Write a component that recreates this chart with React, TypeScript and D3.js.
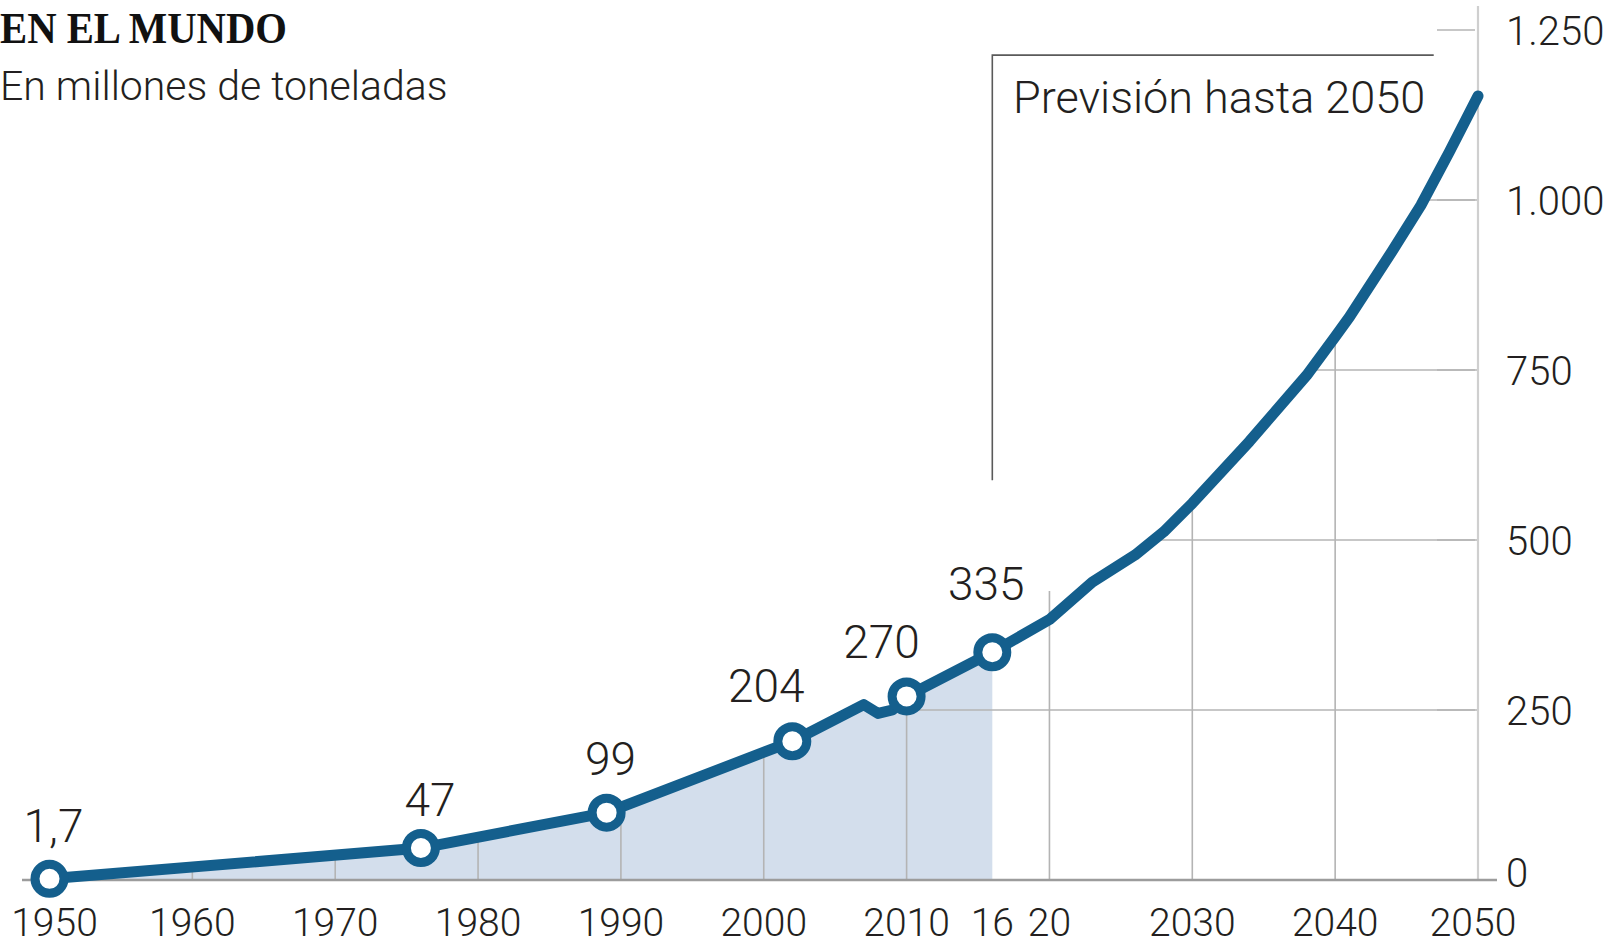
import React from "react";
import * as d3 from "d3";

// Producción mundial de plásticos (millones de toneladas)
const historyYears = [1950, 1976, 1989, 2002, 2007, 2008, 2009, 2010, 2016];
const historyValues = [1.7, 47, 99, 204, 258, 245, 250, 270, 335];

const forecastYears = [2016, 2020, 2023, 2026, 2028, 2030, 2034, 2038, 2040, 2041, 2044, 2046, 2048, 2050];
const forecastValues = [335, 383, 438, 478, 512, 554, 645, 742, 799, 828, 925, 992, 1071, 1153];

// Puntos destacados con su etiqueta
const markedYears = [1950, 1976, 1989, 2002, 2010, 2016];
const markedValues = [1.7, 47, 99, 204, 270, 335];
const markedLabels = ["1,7", "47", "99", "204", "270", "335"];

const xTickYears = [1950, 1960, 1970, 1980, 1990, 2000, 2010, 2016, 2020, 2030, 2040, 2050];
const xTickLabels = ["1950", "1960", "1970", "1980", "1990", "2000", "2010", "16", "20", "2030", "2040", "2050"];
const gridYears = [1960, 1970, 1980, 1990, 2000, 2010, 2030, 2040];

const yTickValues = [0, 250, 500, 750, 1000, 1250];
const yTickLabels = ["0", "250", "500", "750", "1.000", "1.250"];

const title = "EN EL MUNDO";
const subtitle = "En millones de toneladas";
const forecastNote = "Previsión hasta 2050";

// Layout
const W = 1608;
const H = 946;
const BLUE = "#145f8d";
const FILL = "#d3deec";
const GRID = "#b4b4b4";
const TEXT = "#231f20";
const SANS = "Roboto, 'Noto Sans', sans-serif";
const LIGHT = 300;

// small nudges for value labels (dx, dy from the point)
const labelNudge: [number, number][] = [
  [4, -37],
  [9, -32],
  [4, -38],
  [-26, -39],
  [-25, -38],
  [-6, -52],
];

type P = { yr: number; v: number };

export default function App() {
  const x = d3.scaleLinear().domain([1950, 2050]).range([49.5, 1478]);
  const y = d3.scaleLinear().domain([0, 1250]).range([880, 30]);

  const hist: P[] = historyYears.map((yr, i) => ({ yr, v: historyValues[i] }));
  const fc: P[] = forecastYears.map((yr, i) => ({ yr, v: forecastValues[i] }));
  const all = hist.concat(fc.slice(1));

  const line = d3
    .line<P>()
    .x((d) => x(d.yr))
    .y((d) => y(d.v))
    .curve(d3.curveLinear);
  const area = d3
    .area<P>()
    .x((d) => x(d.yr))
    .y0(y(0))
    .y1((d) => y(d.v))
    .curve(d3.curveLinear);

  const x0 = x(1950);
  const x1 = x(2050);
  const tickLen = 41;

  // forecast bracket
  const noteYear = 2016;
  const noteTop = y(1213);
  const noteBottom = y(588);
  const noteRight = x(2046.9);
  // 2020 reference mark rises a little above the curve
  const markYear = 2020;
  const markTop = y(425);

  return (
    <svg
      width={W}
      height={H}
      viewBox={`0 0 ${W} ${H}`}
      style={{ position: "absolute", left: 0, top: 0, background: "#fff" }}
    >
      <defs>
        <clipPath id="under-curve">
          <path d={area(all) || ""} />
        </clipPath>
      </defs>

      <rect x={0} y={0} width={W} height={H} fill="#fff" />

      {/* titles */}
      <text
        x={0}
        y={43}
        fontFamily="'Liberation Serif', 'DejaVu Serif', serif"
        fontWeight="bold"
        fontSize={44}
        textLength={287}
        lengthAdjust="spacingAndGlyphs"
        fill="#111"
      >
        {title}
      </text>
      <text x={0} y={100} fontFamily={SANS} fontWeight={LIGHT} fontSize={41} fill={TEXT}>
        {subtitle}
      </text>

      {/* historic area */}
      <path d={area(hist) || ""} fill={FILL} />

      {/* grid clipped to the area under the curve */}
      <g clipPath="url(#under-curve)" stroke={GRID} strokeWidth={1.6}>
        {gridYears.map((g) => (
          <line key={g} x1={x(g)} x2={x(g)} y1={y(0)} y2={y(1250)} />
        ))}
        {yTickValues
          .filter((v) => v > 0)
          .map((v) => (
            <line key={v} x1={x0} x2={x1} y1={y(v)} y2={y(v)} />
          ))}
      </g>
      <line x1={x(markYear)} x2={x(markYear)} y1={y(0)} y2={markTop} stroke={GRID} strokeWidth={1.6} />

      {/* right axis */}
      <line x1={x1} x2={x1} y1={6} y2={y(0)} stroke="#cfcfcf" strokeWidth={2.2} />
      {yTickValues
        .filter((v) => v > 0)
        .map((v) => (
          <line key={v} x1={x1 - tickLen} x2={x1 - 3} y1={y(v)} y2={y(v)} stroke={GRID} strokeWidth={1.6} />
        ))}
      {yTickValues.map((v, i) => (
        <text
          key={v}
          x={1506}
          y={y(v) + (v === 0 ? -7 : 1)}
          dominantBaseline="central"
          fontFamily={SANS}
          fontWeight={LIGHT}
          fontSize={40}
          fill={TEXT}
        >
          {yTickLabels[i]}
        </text>
      ))}

      {/* baseline */}
      <line x1={22} x2={1497} y1={y(0)} y2={y(0)} stroke="#9c9c9c" strokeWidth={2.6} />

      {/* x labels */}
      {xTickYears.map((yr, i) => (
        <text
          key={yr}
          x={x(yr) + (yr === 1950 ? 5 : yr === 2050 ? -5 : 0)}
          y={936}
          textAnchor="middle"
          fontFamily={SANS}
          fontWeight={LIGHT}
          fontSize={39}
          fill={TEXT}
        >
          {xTickLabels[i]}
        </text>
      ))}

      {/* forecast bracket */}
      <path
        d={`M${x(noteYear)},${noteBottom}V${noteTop}H${noteRight}`}
        fill="none"
        stroke="#5a5a5a"
        strokeWidth={1.6}
      />
      <text x={1013} y={113} fontFamily={SANS} fontWeight={LIGHT} fontSize={45} fill={TEXT}>
        {forecastNote}
      </text>

      {/* series */}
      <path
        d={line(all) || ""}
        fill="none"
        stroke={BLUE}
        strokeWidth={11}
        strokeLinejoin="round"
        strokeLinecap="round"
      />
      {markedYears.map((yr, i) => (
        <circle key={yr} cx={x(yr)} cy={y(markedValues[i])} r={14.5} fill="#fff" stroke={BLUE} strokeWidth={9} />
      ))}
      {markedYears.map((yr, i) => (
        <text
          key={yr}
          x={x(yr) + labelNudge[i][0]}
          y={y(markedValues[i]) + labelNudge[i][1]}
          textAnchor="middle"
          fontFamily={SANS}
          fontWeight={LIGHT}
          fontSize={46}
          fill={TEXT}
        >
          {markedLabels[i]}
        </text>
      ))}
    </svg>
  );
}
